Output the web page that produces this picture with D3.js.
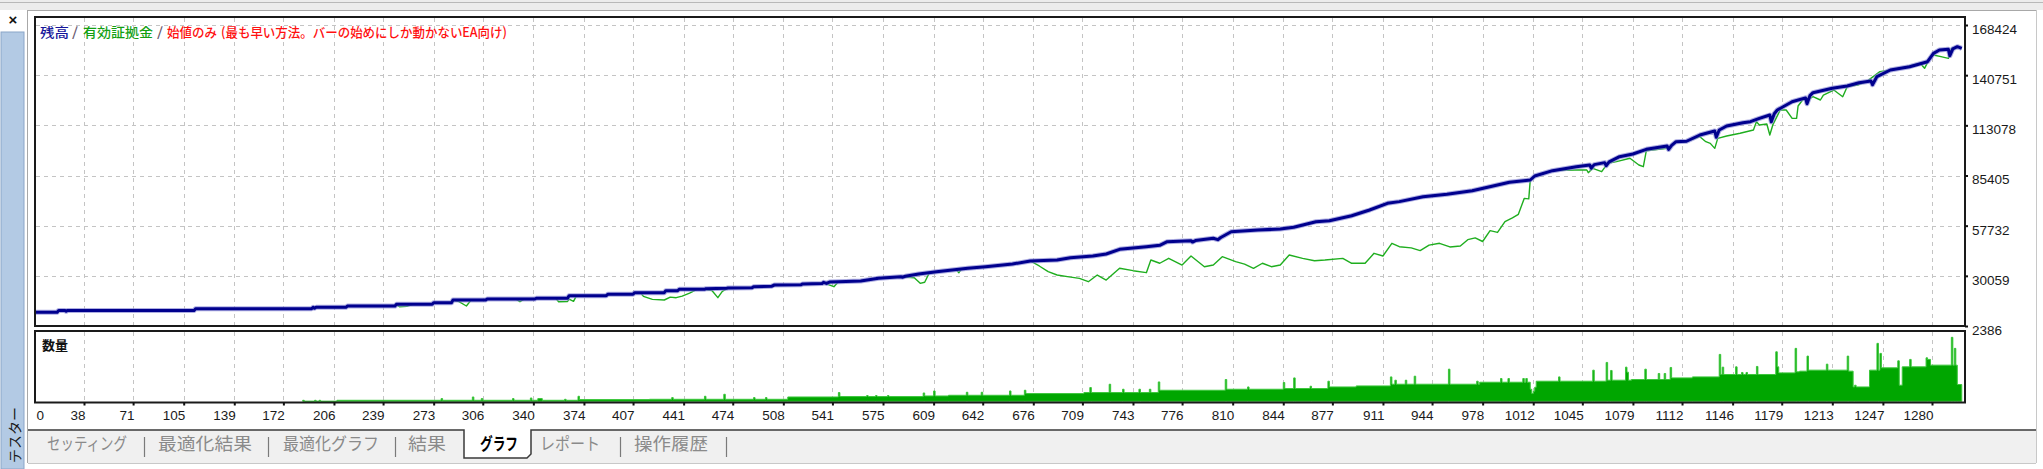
<!DOCTYPE html>
<html><head><meta charset="utf-8">
<script src="https://cdn.jsdelivr.net/npm/d3@7"></script>
<style>
html,body{margin:0;padding:0;background:#fff;overflow:hidden}
svg{display:block}
</style></head><body>
<svg id="chart" width="2043" height="469"></svg>
<script>
// ---------------- DATA ----------------
const xTickLabels = [0,38,71,105,139,172,206,239,273,306,340,374,407,441,474,508,541,575,609,642,676,709,743,776,810,844,877,911,944,978,1012,1045,1079,1112,1146,1179,1213,1247,1280];
const yTickLabels = [2386,30059,57732,85405,113078,140751,168424];

// balance (trade index, value)
const balance = [
[0,10000],[20,10000],[21,11000],[25,11000],[26,10500],[27,11000],[112,11000],[113,11930],[191,11930],[192,12700],[193,12200],[194,12700],
[214,12700],[215,13400],[247,13400],[248,14350],[272,14350],[273,15240],[285,15240],[286,16700],[308,16700],[309,17280],[341,17280],[342,17700],
[363,17700],[364,19100],[389,19100],[390,19870],[407,19870],[408,20760],[428,20760],[429,21850],[437,21850],[438,22640],[455,22640],[456,23000],
[470,23200],[471,23400],[487,23500],[488,24060],[500,24300],[502,25000],[520,25200],[521,25600],[534,25800],[535,26500],[537,25900],[539,26600],
[545,26830],[560,27200],[572,28700],[587,29580],[588,29300],[590,29800],[599,31070],[611,32340],[632,34220],[644,35100],[662,36580],[674,38240],
[692,38790],[701,40060],[716,40990],[725,42100],[734,44690],[752,46130],[761,46900],[766,48880],[782,49440],[783,48700],[785,49500],[797,50760],
[800,50000],[802,51200],[809,54400],[827,55340],[842,55890],[851,56830],[866,59920],[875,60470],[890,63230],[902,66370],[914,70060],[922,71000],
[938,73730],[954,75020],[971,77020],[985,79610],[996,81650],[1010,82920],[1013,85130],[1025,88070],[1041,90280],[1050,91190],[1051,89500],
[1053,91400],[1060,92500],[1061,90800],[1063,92900],[1070,95770],[1079,97260],[1088,99850],[1102,101680],[1103,99800],[1105,102000],[1108,104050],
[1115,104300],[1124,107740],[1134,109950],[1135,106500],[1137,110500],[1142,112710],[1153,114540],[1158,115090],[1164,116930],[1171,118770],
[1172,115000],[1174,119500],[1176,121530],[1186,126120],[1195,128200],[1196,125000],[1198,129500],[1200,131090],[1213,133520],[1223,134760],
[1231,136600],[1239,137500],[1240,135500],[1242,138500],[1243,140000],[1252,143600],[1265,145430],[1277,148190],[1281,152790],[1285,154630],
[1291,154990],[1292,151500],[1294,155300],[1297,156460],[1300,155550]
];

// equity (trade index, value)
const equity = [
[0,10000],[20,10000],[21,11000],[112,11000],[113,11930],[191,11930],[192,12700],[214,12700],[215,13400],[247,13400],[248,14000],[250,13030],
[255,13300],[259,14350],[272,14350],[273,15240],[285,15240],[286,16700],[290,15800],[295,13420],[298,16500],[308,16700],[309,17280],[328,17280],
[331,15790],[334,17280],[341,17280],[342,17700],[355,17700],[357,15790],[363,15900],[364,17200],[367,16000],[369,19100],[389,19100],[390,19870],
[407,19870],[408,20760],[412,20760],[414,18700],[420,17100],[428,16730],[432,18300],[436,18000],[440,18900],[445,20500],[450,22640],[455,22640],
[460,22000],[464,18030],[467,21500],[471,23400],[487,23500],[488,24060],[500,24300],[502,25000],[520,25200],[521,25600],[535,26200],[542,24060],
[545,26830],[560,27200],[572,28700],[587,29580],[596,29000],[600,25930],[603,26500],[606,31500],[611,32340],[624,33500],[626,31800],[628,34000],
[632,34220],[644,35100],[662,36580],[674,38240],[680,35500],[686,32340],[692,30510],[700,29500],[707,28670],[713,26830],[719,30510],[725,27750],
[734,34220],[743,32900],[752,31800],[755,38790],[761,37000],[767,39730],[776,36030],[782,40990],[791,35100],[797,36000],[803,40620],[812,37870],
[818,36500],[824,34220],[830,37000],[836,35100],[842,36000],[848,41540],[857,39700],[865,38400],[872,38790],[884,39700],[890,36970],[899,36970],
[905,42480],[911,40990],[917,48000],[922,46130],[930,45500],[936,44000],[942,47000],[949,48000],[956,46000],[963,46500],[968,50000],[973,51000],
[978,49000],[983,55000],[988,54000],[993,60000],[998,62000],[1002,64000],[1006,72810],[1009,72500],[1010,83000],[1013,85130],[1025,88070],
[1040,88440],[1048,88440],[1049,86950],[1052,89380],[1058,87510],[1062,92130],[1068,93050],[1077,94900],[1083,91190],[1086,90280],[1088,99080],
[1102,100400],[1108,104050],[1115,104050],[1124,106820],[1128,104050],[1131,103130],[1134,100370],[1136,105900],[1142,107200],[1151,108700],
[1160,110500],[1162,115090],[1164,113300],[1169,113800],[1171,107740],[1173,113300],[1178,121530],[1182,121530],[1186,116930],[1189,116930],
[1190,123740],[1193,127050],[1198,128000],[1200,128880],[1205,127050],[1207,129800],[1214,132560],[1220,128880],[1223,134400],[1230,135330],
[1236,137170],[1245,142690],[1252,143600],[1263,145430],[1272,147300],[1275,144530],[1279,150950],[1281,151870],[1286,150950],[1291,150030],
[1293,155550],[1299,156460]
];

// volume (trade index, lots) as a step series
const volume = [
[185,0.1],[186,0],[193,0.1],[194,0],[196,0.1],[197,0],[208,0.1],
[278,0.27],[279,0.1],[299,0.43],[300,0.1],[305,0.27],[306,0.1],[326,0.27],[327,0.1],[338,0.33],[339,0.1],[343,0.27],[346,0.1],[361,0.2],[362,0.1],
[370,0.5],[371,0.17],[418,0.2],[433,0.37],[434,0.2],[455,0.5],[456,0.2],[468,0.7],[469,0.2],[488,0.37],[489,0.2],[496,0.37],[497,0.2],
[511,0.43],[545,0.87],[546,0.47],[564,0.57],[565,0.47],[570,0.57],[571,0.47],[578,0.57],[579,0.47],
[602,0.83],[603,0.53],[609,1.03],[610,0.53],[619,0.6],[631,0.9],[632,0.6],[641,0.9],[642,0.6],[660,1.03],[661,0.6],
[670,1.1],[671,0.77],[710,0.87],[714,1.37],[715,0.87],[727,1.7],[728,0.87],[736,1.2],[737,0.87],[747,1.2],[748,0.87],[754,1.2],[755,0.87],
[760,1.93],[761,1.1],[805,2.17],[806,1.2],[820,1.43],[821,1.2],[844,1.87],[845,1.27],[851,2.33],[852,1.27],[862,1.5],[863,1.27],[874,2.0],[875,1.43],
[893,1.53],[916,2.43],[917,1.7],[919,2.1],[920,1.7],[926,2.1],[927,1.7],[932,2.5],[933,1.7],[955,3.2],[956,1.7],[974,2.0],[975,1.7],
[976,1.9],[990,2.27],[991,1.9],[995,2.27],[996,1.9],[1005,2.27],[1006,1.9],[1007,2.27],[1008,1.9],
[1010,1.2],[1011,0.77],[1012,1.0],[1013,1.4],[1014,2.0],[1029,2.43],[1030,2.0],
[1052,3.1],[1053,2.0],[1061,3.87],[1062,2.1],[1064,3.07],[1065,2.1],[1074,3.4],[1075,2.9],[1076,2.1],
[1078,2.17],[1087,3.2],[1088,2.17],[1096,2.77],[1097,2.17],[1100,2.77],[1101,2.17],[1104,3.37],[1105,2.33],
[1119,2.43],[1137,4.67],[1138,2.67],[1139,3.4],[1140,2.67],[1148,3.43],[1149,2.67],[1152,2.87],[1153,2.67],[1155,2.87],[1156,2.67],[1162,3.47],[1163,2.67],
[1175,4.93],[1176,3.43],[1177,2.83],[1188,5.27],[1189,2.93],[1191,3.0],[1196,4.5],[1197,3.1],[1209,3.7],[1210,3.1],[1223,4.5],[1224,3.0],
[1227,1.43],[1228,1.6],[1229,1.43],[1238,3.1],[1243,5.77],[1244,3.1],[1245,4.77],[1246,3.33],[1257,4.03],[1258,1.6],[1260,3.43],[1265,4.17],[1266,3.43],
[1276,4.33],[1277,4.17],[1279,3.6],[1293,6.37],[1294,3.6],[1295,5.27],[1296,3.6],[1297,1.67],[1300,1.67]
];

const legendParts = ["残高","/","有効証拠金","/","始値のみ","(最も早い方法。バーの始めにしか動かないEA向け)"];
const volumeTitle = "数量";
const tabLabels = ["セッティング","最適化結果","最適化グラフ","結果","グラフ","レポート","操作履歴"];
const selectedTab = "グラフ";
const sideTitle = "テスター";

// ---------------- LAYOUT ----------------
const W = 2043, H = 469;
const L = 35, R = 1965, mTop = 17, mBot = 326, vTop = 331, vBot = 402.5;
const legendLayout = [
  {x:40, w:29, c:"#14149a"},{x:72, w:6, c:"#6a5a70"},{x:83, w:70, c:"#12a012"},
  {x:157, w:6, c:"#6a5a70"},{x:167, w:50, c:"#ff1010"},{x:221, w:286, c:"#ff1010"}
];
const tabLayout = [{x:47,w:80},{x:158,w:94},{x:283,w:96},{x:408,w:38},{x:480,w:38},{x:540,w:60},{x:634,w:74}];
const tabSeps = [144,268,395,620,726];

const svg = d3.select("#chart");
const CJK = "'Noto Sans CJK JP','Noto Sans CJK SC',sans-serif";
const NUM = "'Liberation Sans','DejaVu Sans',sans-serif";

// scales
const x = d3.scaleLinear().domain([38,1280]).range([84,1932]);
const y = d3.scaleLinear().domain([2386,168424]).range([mBot,25]);
const yv = d3.scaleLinear().domain([0,7]).range([401.3,331]);

// ---------------- WINDOW CHROME ----------------
svg.append("rect").attr("x",0).attr("y",0).attr("width",W).attr("height",H).attr("fill","#ffffff");
svg.append("rect").attr("x",0).attr("y",0).attr("width",W).attr("height",10).attr("fill","#ececec");
svg.append("line").attr("x1",0).attr("x2",W).attr("y1",2.5).attr("y2",2.5).attr("stroke","#b8b8b8");
svg.append("line").attr("x1",27).attr("x2",2036).attr("y1",10.5).attr("y2",10.5).attr("stroke","#a8a8a8");
svg.append("line").attr("x1",27.5).attr("x2",27.5).attr("y1",10).attr("y2",463).attr("stroke","#a8a8a8");
svg.append("line").attr("x1",2036.5).attr("x2",2036.5).attr("y1",10).attr("y2",463).attr("stroke","#c8c8c8");
// sidebar
svg.append("rect").attr("x",1).attr("y",32).attr("width",23).attr("height",437).attr("fill","#b3cae4").attr("stroke","#8aa5c8");
svg.append("text").attr("x",13).attr("y",19).attr("text-anchor","middle").attr("dominant-baseline","central")
  .attr("font-family",NUM).attr("font-weight","bold").attr("font-size",15).attr("fill","#111").text("×");
svg.append("text").attr("transform","translate(14,435) rotate(-90)").attr("text-anchor","middle").attr("dominant-baseline","central")
  .attr("font-family",CJK).attr("font-size",14).attr("fill","#1a1a1a").text(sideTitle);

// tab bar
svg.append("rect").attr("x",28).attr("y",430).attr("width",2008).attr("height",33).attr("fill","#f0f0f0");
svg.append("line").attr("x1",28).attr("x2",2036).attr("y1",463.5).attr("y2",463.5).attr("stroke","#c8c8c8");
svg.append("path").attr("d","M464,430 V458 H527 L531,454 V430 Z").attr("fill","#ffffff");
svg.append("path").attr("d","M28,430 H464 V458 H527 L531,454 V430 H2036").attr("fill","none").attr("stroke","#3a3a3a").attr("stroke-width",1.5);
tabLabels.forEach((t,i)=>{
  const sel = t===selectedTab;
  svg.append("text").attr("x",tabLayout[i].x).attr("y",450).attr("textLength",tabLayout[i].w).attr("lengthAdjust","spacingAndGlyphs")
    .attr("font-family",CJK).attr("font-size",17).attr("font-weight",sel?"bold":"normal")
    .attr("fill",sel?"#000":"#8a8a8a").text(t);
});
tabSeps.forEach(s=>{
  svg.append("line").attr("x1",s+0.5).attr("x2",s+0.5).attr("y1",437).attr("y2",457).attr("stroke","#7a7a7a").attr("stroke-width",1.2);
});

// ---------------- GRID ----------------
const grid = svg.append("g").attr("stroke","#c4c4c4").attr("stroke-width",1).attr("stroke-dasharray","4,4");
xTickLabels.filter(v=>x(v)>L+5).forEach(v=>{
  const px = Math.round(x(v))+0.5;
  grid.append("line").attr("x1",px).attr("x2",px).attr("y1",mTop+1).attr("y2",mBot);
  grid.append("line").attr("x1",px).attr("x2",px).attr("y1",vTop+1).attr("y2",vBot);
});
yTickLabels.filter(v=>v!==2386).forEach(v=>{
  const py = Math.round(y(v))+0.5;
  grid.append("line").attr("x1",L+1).attr("x2",R).attr("y1",py).attr("y2",py);
});

// ---------------- CLIP ----------------
const defs = svg.append("defs");
defs.append("clipPath").attr("id","clipMain").append("rect").attr("x",L+1).attr("y",mTop+1).attr("width",R-L-2).attr("height",mBot-mTop-2);
defs.append("clipPath").attr("id","clipVol").append("rect").attr("x",L+1).attr("y",vTop+1).attr("width",R-L-2).attr("height",vBot-vTop-1.5);

// ---------------- VOLUME ----------------
const area = d3.area().curve(d3.curveStepAfter).x(d=>x(d[0])).y0(yv(0)).y1(d=>yv(d[1]));
const vg = svg.append("g").attr("clip-path","url(#clipVol)");
vg.append("path").datum(volume).attr("d",area).attr("fill","#00a600").attr("stroke","#3cc63c").attr("stroke-width",1);

// ---------------- LINES ----------------
const line = d3.line().x(d=>x(d[0])).y(d=>y(d[1]));
const mg = svg.append("g").attr("clip-path","url(#clipMain)");
mg.append("path").datum(equity).attr("d",line).attr("fill","none").attr("stroke","#1fae1f").attr("stroke-width",1.4).attr("stroke-linejoin","round");
mg.append("path").datum(balance).attr("d",line).attr("fill","none").attr("stroke","#8c8cd6").attr("stroke-width",5).attr("stroke-linejoin","round").attr("opacity",0.7);
mg.append("path").datum(balance).attr("d",line).attr("fill","none").attr("stroke","#00008e").attr("stroke-width",3).attr("stroke-linejoin","round");

// ---------------- FRAMES ----------------
svg.append("rect").attr("x",L).attr("y",mTop).attr("width",R-L).attr("height",mBot-mTop).attr("fill","none").attr("stroke","#1a1a1a").attr("stroke-width",2);
svg.append("rect").attr("x",L).attr("y",vTop).attr("width",R-L).attr("height",vBot-vTop).attr("fill","none").attr("stroke","#1a1a1a").attr("stroke-width",2);

// ---------------- AXES ----------------
const yAxis = d3.axisRight(y).tickValues(yTickLabels).tickSize(3).tickPadding(5).tickFormat(d3.format("d"));
const ya = svg.append("g").attr("transform",`translate(${R},0)`).call(yAxis);
ya.select(".domain").remove();
ya.selectAll(".tick line").attr("stroke","#111").attr("stroke-width",2);
ya.selectAll(".tick text").attr("font-family",NUM).attr("font-size",13.5).attr("fill","#1a1a1a").attr("dy","0.62em").attr("x",7);

const xAxis = d3.axisBottom(x).tickValues(xTickLabels).tickSize(3).tickPadding(4).tickFormat(d3.format("d"));
const xa = svg.append("g").attr("transform",`translate(0,${vBot})`).call(xAxis);
xa.select(".domain").remove();
xa.selectAll(".tick line").attr("stroke","#111").attr("stroke-width",2).attr("display",d=>x(d)<L+5?"none":null);
xa.selectAll(".tick text").attr("font-family",NUM).attr("font-size",13.5).attr("fill","#1a1a1a")
  .attr("text-anchor",d=>x(d)<L+5?"start":"end")
  .attr("x",d=>x(d)<L+5?(L+1-x(d)):1).attr("y",8).attr("dy","0.71em");

// ---------------- LEGEND / TITLES ----------------
legendParts.forEach((t,i)=>{
  svg.append("text").attr("x",legendLayout[i].x).attr("y",36.5)
    .attr("textLength",legendLayout[i].w).attr("lengthAdjust","spacingAndGlyphs")
    .attr("font-family",CJK).attr("font-size",13).attr("font-weight",500).attr("fill",legendLayout[i].c).text(t);
});
svg.append("text").attr("x",42).attr("y",350).attr("font-family",CJK).attr("font-size",13).attr("font-weight","bold").attr("fill","#111").text(volumeTitle);
</script>
</body></html>
